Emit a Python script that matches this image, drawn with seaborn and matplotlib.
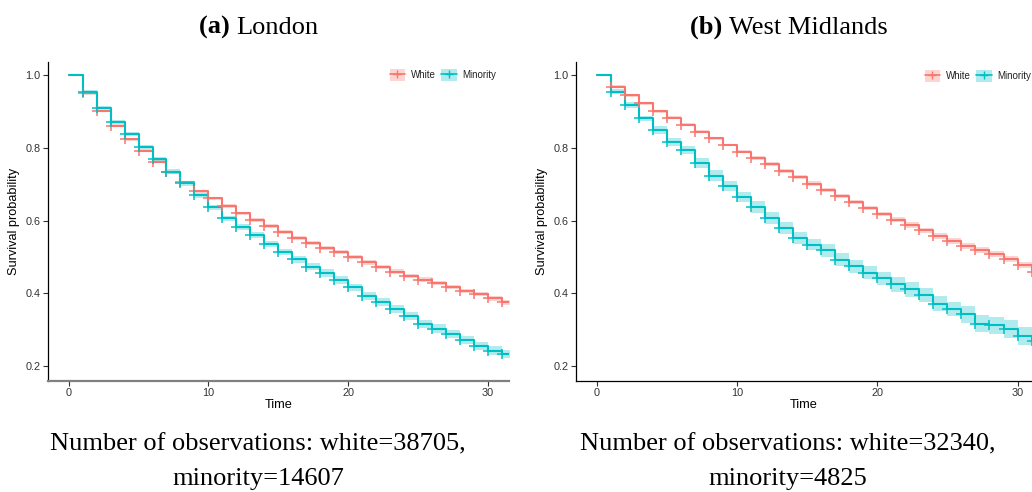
import numpy as np
import pandas as pd
import matplotlib
matplotlib.use("Agg")
import matplotlib.pyplot as plt
from matplotlib.patches import Patch
from matplotlib.lines import Line2D
from matplotlib.legend_handler import HandlerTuple
import seaborn as sns

# ---------------- data ----------------
times = list(range(0, 32)) + [32]          # follow-up ends after t=31
groups = ["White", "Minority"]
palette = {"White": "#F8766D", "Minority": "#00BFC4"}

london_white = [1.000, 0.950, 0.902, 0.861, 0.824, 0.792, 0.762, 0.733, 0.706, 0.681,
                0.661, 0.640, 0.620, 0.602, 0.585, 0.568, 0.553, 0.539, 0.525, 0.513,
                0.500, 0.485, 0.472, 0.460, 0.448, 0.438, 0.428, 0.417, 0.407, 0.398,
                0.386, 0.375]
london_minority = [1.000, 0.954, 0.911, 0.871, 0.839, 0.803, 0.769, 0.734, 0.703, 0.670,
                   0.637, 0.606, 0.583, 0.560, 0.536, 0.514, 0.494, 0.473, 0.456, 0.437,
                   0.417, 0.394, 0.375, 0.357, 0.337, 0.317, 0.303, 0.288, 0.272, 0.255,
                   0.242, 0.233]
wm_white = [1.000, 0.968, 0.945, 0.923, 0.901, 0.883, 0.864, 0.845, 0.826, 0.808,
            0.790, 0.772, 0.755, 0.736, 0.720, 0.702, 0.684, 0.668, 0.651, 0.635,
            0.618, 0.603, 0.587, 0.573, 0.558, 0.545, 0.531, 0.520, 0.508, 0.495,
            0.479, 0.459]
wm_minority = [1.000, 0.955, 0.917, 0.881, 0.849, 0.817, 0.793, 0.758, 0.724, 0.696,
               0.665, 0.637, 0.608, 0.579, 0.553, 0.534, 0.518, 0.492, 0.474, 0.457,
               0.441, 0.425, 0.411, 0.395, 0.372, 0.357, 0.342, 0.317, 0.312, 0.302,
               0.283, 0.268]

# half-width of the confidence bands
london_white_hw = [0.000, 0.004, 0.004, 0.004, 0.004, 0.004, 0.004, 0.004, 0.004, 0.004,
                   0.004, 0.005, 0.005, 0.005, 0.005, 0.005, 0.005, 0.005, 0.005, 0.005,
                   0.005, 0.006, 0.006, 0.006, 0.006, 0.006, 0.006, 0.006, 0.006, 0.006,
                   0.006, 0.006]
london_minority_hw = [0.000, 0.005, 0.005, 0.005, 0.005, 0.005, 0.007, 0.007, 0.007, 0.007,
                      0.007, 0.008, 0.008, 0.008, 0.008, 0.008, 0.010, 0.010, 0.010, 0.010,
                      0.010, 0.011, 0.011, 0.011, 0.011, 0.011, 0.012, 0.012, 0.012, 0.012,
                      0.012, 0.012]
wm_white_hw = [0.000, 0.004, 0.004, 0.004, 0.004, 0.004, 0.004, 0.004, 0.004, 0.004,
               0.004, 0.006, 0.006, 0.006, 0.006, 0.006, 0.006, 0.006, 0.006, 0.006,
               0.006, 0.008, 0.008, 0.008, 0.008, 0.008, 0.008, 0.008, 0.008, 0.008,
               0.008, 0.008]
wm_minority_hw = [0.000, 0.008, 0.008, 0.008, 0.011, 0.011, 0.011, 0.014, 0.014, 0.014,
                  0.014, 0.016, 0.016, 0.016, 0.016, 0.016, 0.018, 0.018, 0.018, 0.018,
                  0.018, 0.020, 0.020, 0.020, 0.020, 0.020, 0.024, 0.024, 0.024, 0.024,
                  0.024, 0.024]

xticks = [0, 10, 20, 30]
yticks = [0.2, 0.4, 0.6, 0.8, 1.0]
titles = [("(a)", "London"), ("(b)", "West Midlands")]
captions = [("Number of observations: white=38705,", "minority=14607"),
            ("Number of observations: white=32340,", "minority=4825")]

panels = [
    {"White": (london_white, london_white_hw), "Minority": (london_minority, london_minority_hw)},
    {"White": (wm_white, wm_white_hw), "Minority": (wm_minority, wm_minority_hw)},
]

# ---------------- style ----------------
sns.set_style("ticks")
plt.rcParams["font.family"] = ["Liberation Sans", "DejaVu Sans"]
plt.rcParams["text.color"] = "black"
plt.rcParams["axes.labelcolor"] = "black"
SERIF = ["Liberation Serif", "DejaVu Serif"]

fig = plt.figure(figsize=(10.32, 4.92), dpi=100)
ax_pos = [[0.0462, 0.2256, 0.4470, 0.6490], [0.5578, 0.2256, 0.4422, 0.6490]]
xlims = [(-1.5, 31.5), (-1.5, 31.03)]
title_x = [258 / 1032, 788 / 1032]
leg_anchor = [(0.972, 0.958), (0.998, 0.955)]

for i, panel in enumerate(panels):
    ax = fig.add_axes(ax_pos[i])
    rows = []
    for g in groups:
        vals, hw = panel[g]
        full = list(vals) + [vals[-1]]
        for t, v in zip(times, full):
            rows.append({"Time": t, "Survival": v, "Group": g})
    df = pd.DataFrame(rows)

    # confidence bands
    for g in groups:
        vals, hw = panel[g]
        full = np.array(list(vals) + [vals[-1]])
        hwf = np.array(list(hw) + [hw[-1]])
        ax.fill_between(times, full - hwf, full + hwf, step="post",
                        color=palette[g], alpha=0.3, linewidth=0, zorder=1)

    sns.lineplot(data=df, x="Time", y="Survival", hue="Group", hue_order=groups,
                 palette=palette, estimator=None, drawstyle="steps-post",
                 linewidth=1.5, legend=False, ax=ax, zorder=3)

    # censor marks
    for g in groups:
        vals, hw = panel[g]
        ax.plot(times[1:len(vals)], vals[1:], linestyle="none", marker="+",
                markersize=6.5, markeredgewidth=1.1, color=palette[g], zorder=4)

    ax.set_xlim(*xlims[i])
    ax.set_ylim(0.159, 1.037)
    ax.set_xticks(xticks)
    ax.set_yticks(yticks)
    ax.set_yticklabels([f"{v:.1f}" for v in yticks])
    ax.tick_params(axis="both", labelsize=7.8, length=3.5, width=0.8, pad=1.5,
                   colors="#333333", labelcolor="#333333")
    ax.set_xlabel("Time", fontsize=9.2, labelpad=1)
    ax.set_ylabel("Survival probability", fontsize=9.2, labelpad=4)
    sns.despine(ax=ax)
    for s in ["left", "bottom"]:
        ax.spines[s].set_linewidth(0.9)
        ax.spines[s].set_color("black")
    if i == 0:
        ax.spines["bottom"].set_color("#808080")
        ax.spines["bottom"].set_linewidth(1.6)

    handles = [(Patch(facecolor=palette[g], alpha=0.3, edgecolor="none"),
                Line2D([0], [0], color=palette[g], lw=1.2, marker="+",
                       markersize=6, markeredgewidth=1.0))
               for g in groups]
    leg = ax.legend(handles, groups, handler_map={tuple: HandlerTuple(ndivide=1)},
                    loc="center right", bbox_to_anchor=leg_anchor[i], ncol=2,
                    frameon=False, fontsize=7, handlelength=1.6, handleheight=1.6,
                    handletextpad=0.55, columnspacing=0.6, borderpad=0, borderaxespad=0)
    for txt in leg.get_texts():
        txt.set_color("#222222")

    # panel title: bold label + regular name
    bold, name = titles[i]
    t = fig.text(title_x[i], 0.931, f"{bold} {name}", fontsize=19, family=SERIF,
                 ha="center", va="baseline", color="white")
    fig.canvas.draw()
    bb = t.get_window_extent()
    t.remove()
    tb = fig.text(bb.x0 / fig.bbox.width, 0.931, bold + " ", fontsize=19, family=SERIF,
                  fontweight="bold", ha="left", va="baseline")
    fig.canvas.draw()
    bb2 = tb.get_window_extent()
    fig.text(bb2.x1 / fig.bbox.width, 0.931, name, fontsize=19, family=SERIF,
             ha="left", va="baseline")

    l1, l2 = captions[i]
    fig.text(title_x[i], 1 - 450 / 492, l1, fontsize=19, family=SERIF,
             ha="center", va="baseline")
    fig.text(title_x[i], 1 - 485 / 492, l2, fontsize=19, family=SERIF,
             ha="center", va="baseline")

fig.savefig("out.png", dpi=100)
